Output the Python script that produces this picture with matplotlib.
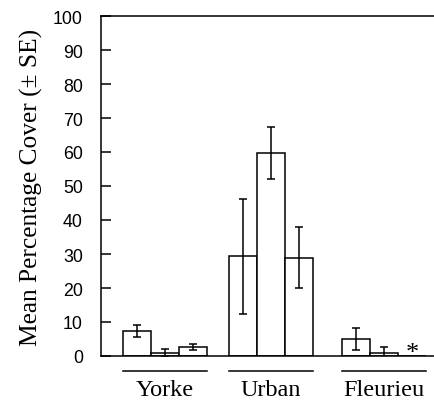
import numpy as np
import matplotlib.pyplot as plt

sites = ["Yorke", "Urban", "Fleurieu"]
# three bars per site (left, middle, right)
means = [[7.4, 0.8, 2.7],
         [29.3, 59.7, 28.9],
         [5.1, 1.0, 0.0]]
errors = [[1.8, 1.2, 0.8],
          [16.9, 7.6, 9.0],
          [3.2, 1.6, 0.0]]
missing = [(2, 2)]  # marked with an asterisk

group_left = [0.79, 4.57, 8.61]
bar_w = 1.0

fig = plt.figure(figsize=(4.35, 4.02), dpi=100)
ax = fig.add_axes([101 / 435, 45 / 402, 334 / 435, 340 / 402])

for g in range(len(sites)):
    xs = group_left[g] + bar_w / 2 + np.arange(3) * bar_w
    ax.bar(xs, means[g], width=bar_w, color="white", edgecolor="black",
           linewidth=1.1, zorder=2)
    for i in range(3):
        if (g, i) in missing:
            ax.text(xs[i], -1.0, "*", ha="center", va="baseline",
                    fontsize=19, family="Liberation Serif")
            continue
        ax.errorbar(xs[i], means[g][i], yerr=errors[g][i], fmt="none",
                    ecolor="black", elinewidth=1.1, capsize=2.6,
                    capthick=1.1, zorder=3)
    x0 = group_left[g]
    x1 = x0 + 3 * bar_w
    ax.plot([x0, x1], [-0.044, -0.044], color="black", lw=1.1,
            transform=ax.get_xaxis_transform(), clip_on=False)
    ax.text((x0 + x1) / 2, -0.098, sites[g], ha="center", va="center",
            fontsize=17.5, family="Liberation Serif",
            transform=ax.get_xaxis_transform())

ax.set_xlim(0, 334 / 28)
ax.set_ylim(0, 100)
ax.set_yticks(range(0, 101, 10))
ax.set_xticks([])
ax.tick_params(axis="y", direction="in", length=7, width=1.1, pad=13,
               labelsize=12.8)
for lab in ax.get_yticklabels():
    lab.set_family("Liberation Sans")
ax.spines["right"].set_visible(False)
for s in ["left", "top", "bottom"]:
    ax.spines[s].set_linewidth(1.1)

ax.set_ylabel("Mean Percentage Cover (\u00b1 SE)", fontsize=18.3,
              family="Liberation Serif")
ax.yaxis.set_label_coords(-0.175, 0.5)

fig.savefig("out.png", dpi=100)
